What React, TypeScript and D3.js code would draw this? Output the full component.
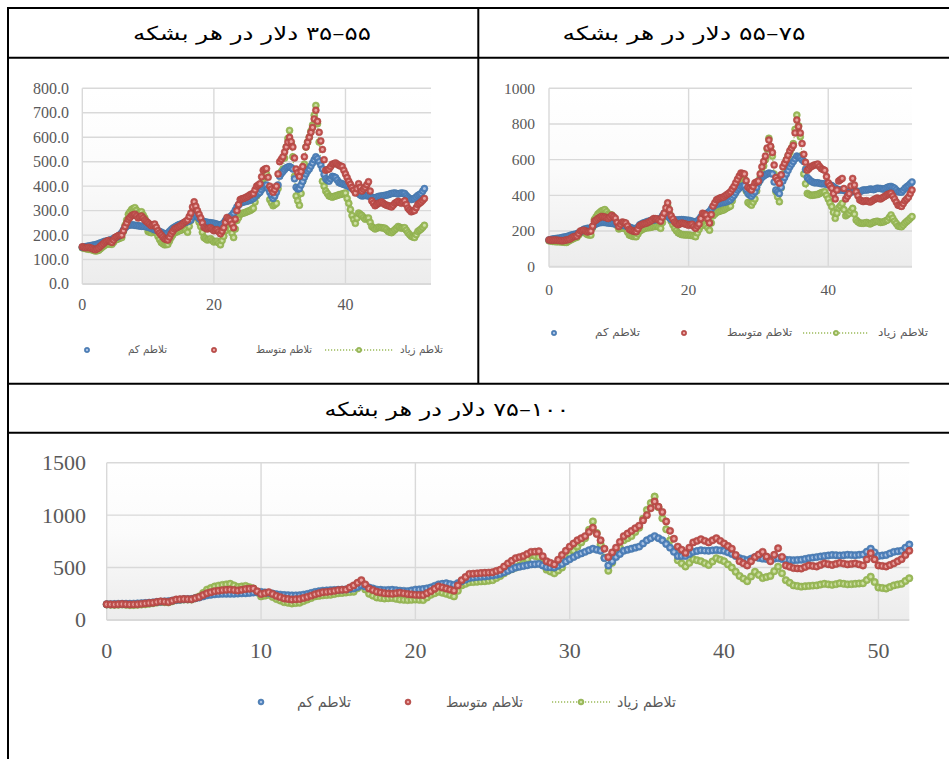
import React from "react";
import * as d3 from "d3";

// Sampling interval along the horizontal axis (four values per unit)
const STEP = 0.25;

const LEGEND_LABELS = ["تلاطم کم", "تلاطم متوسط", "تلاطم زیاد"];
const PANEL_TITLES = [
  "\u202A۳۵–۵۵\u202C دلار در هر بشکه",
  "\u202A۵۵–۷۵\u202C دلار در هر بشکه",
  "\u202A۷۵–۱۰۰\u202C دلار در هر بشکه",
];

// ---- Panel 1: 35–55 $/bbl ----
const TL_LOW = [
  150, 151, 152, 154, 155, 156, 158, 159, 160, 163, 165, 168, 170, 173, 175, 176, 178, 180, 182, 186,
  190, 192, 195, 202, 210, 221, 230, 236, 240, 241, 242, 241, 240, 239, 238, 237, 236, 236, 235, 234,
  232, 230, 228, 225, 222, 220, 218, 215, 212, 208, 205, 204, 208, 215, 222, 228, 232, 236, 240, 243,
  245, 248, 250, 252, 255, 258, 262, 275, 290, 283, 275, 268, 262, 258, 255, 253, 252, 251, 250, 249,
  248, 246, 244, 242, 240, 244, 250, 260, 268, 272, 275, 282, 290, 302, 315, 323, 330, 333, 335, 337,
  338, 340, 342, 346, 350, 357, 365, 370, 375, 386, 395, 402, 405, 390, 375, 362, 350, 360, 375, 405,
  440, 452, 460, 468, 475, 478, 480, 476, 470, 430, 395, 388, 390, 405, 420, 436, 450, 462, 470, 482,
  495, 508, 520, 512, 500, 486, 470, 448, 430, 424, 420, 430, 440, 438, 435, 425, 415, 412, 410, 407,
  405, 402, 400, 395, 390, 388, 385, 378, 370, 364, 360, 361, 362, 361, 360, 358, 355, 353, 352, 355,
  358, 359, 360, 361, 362, 364, 365, 368, 370, 371, 372, 370, 368, 370, 372, 371, 370, 362, 355, 350,
  345, 347, 350, 356, 362, 366, 370, 380, 390,
];
const TL_MID = [
  152, 150, 148, 149, 150, 147, 145, 142, 140, 144, 148, 154, 160, 166, 172, 175, 178, 174, 170, 180,
  190, 194, 198, 199, 200, 218, 235, 250, 265, 272, 280, 283, 285, 278, 270, 274, 278, 270, 262, 256,
  250, 244, 238, 242, 245, 232, 218, 208, 200, 192, 185, 182, 180, 192, 205, 215, 225, 229, 232, 236,
  240, 246, 252, 257, 262, 276, 290, 315, 336, 318, 300, 285, 270, 250, 232, 228, 225, 228, 230, 224,
  218, 220, 222, 214, 205, 216, 230, 252, 272, 266, 260, 245, 230, 265, 300, 325, 345, 348, 350, 353,
  356, 360, 365, 368, 370, 385, 400, 405, 410, 438, 465, 470, 472, 436, 400, 388, 375, 386, 400, 450,
  500, 510, 520, 540, 560, 580, 600, 582, 560, 515, 470, 455, 440, 460, 480, 520, 560, 580, 600, 620,
  640, 675, 710, 665, 620, 585, 550, 508, 465, 468, 470, 480, 490, 492, 495, 490, 485, 482, 480, 465,
  450, 435, 420, 408, 395, 384, 372, 390, 410, 395, 380, 388, 395, 406, 418, 380, 340, 330, 320, 325,
  330, 332, 335, 330, 325, 322, 320, 318, 315, 322, 330, 334, 338, 334, 330, 335, 340, 325, 310, 302,
  295, 298, 300, 312, 325, 330, 335, 342, 350,
];
const TL_HIGH = [
  148, 146, 145, 143, 142, 141, 140, 137, 135, 136, 138, 144, 150, 155, 160, 163, 165, 163, 162, 171,
  180, 182, 185, 188, 190, 215, 240, 262, 285, 295, 305, 309, 312, 301, 290, 292, 295, 282, 270, 242,
  215, 212, 210, 218, 225, 210, 195, 182, 170, 165, 160, 161, 162, 176, 190, 200, 210, 212, 215, 218,
  220, 225, 230, 221, 212, 236, 260, 285, 310, 290, 270, 252, 235, 212, 190, 185, 180, 182, 185, 178,
  172, 174, 175, 168, 160, 178, 195, 218, 240, 232, 225, 208, 190, 225, 260, 272, 285, 288, 290, 292,
  295, 298, 300, 305, 310, 335, 360, 370, 380, 405, 430, 440, 450, 398, 345, 332, 320, 325, 330, 390,
  450, 460, 470, 515, 560, 595, 628, 575, 520, 440, 360, 340, 322, 370, 420, 490, 560, 580, 600, 625,
  650, 690, 730, 655, 580, 500, 420, 400, 380, 370, 360, 358, 355, 358, 360, 362, 365, 366, 368, 370,
  372, 350, 330, 305, 280, 264, 248, 270, 290, 285, 280, 272, 265, 268, 270, 252, 235, 230, 225, 228,
  232, 231, 230, 229, 228, 222, 215, 212, 210, 216, 222, 228, 235, 232, 228, 229, 230, 220, 210, 202,
  195, 192, 190, 202, 215, 220, 225, 232, 240,
];

// ---- Panel 2: 55–75 $/bbl ----
const TR_LOW = [
  150, 152, 155, 156, 158, 159, 160, 162, 165, 166, 168, 171, 175, 178, 180, 182, 185, 190, 195, 202,
  210, 212, 215, 215, 215, 225, 235, 240, 245, 246, 248, 248, 248, 246, 245, 244, 243, 241, 240, 239,
  238, 236, 234, 231, 228, 225, 222, 218, 215, 213, 212, 222, 235, 240, 245, 248, 252, 255, 258, 260,
  262, 263, 265, 267, 270, 285, 300, 292, 285, 275, 265, 263, 262, 262, 262, 263, 264, 263, 262, 261,
  260, 258, 255, 252, 250, 256, 265, 278, 290, 292, 295, 302, 310, 324, 337, 344, 350, 352, 355, 358,
  360, 362, 365, 370, 375, 388, 400, 415, 430, 440, 450, 452, 455, 432, 410, 402, 395, 408, 420, 445,
  470, 485, 500, 508, 515, 520, 525, 522, 520, 475, 430, 420, 410, 445, 480, 500, 520, 540, 560, 575,
  590, 605, 620, 615, 610, 600, 590, 545, 500, 490, 480, 475, 470, 470, 470, 468, 465, 465, 465, 462,
  460, 458, 455, 448, 440, 435, 430, 430, 430, 428, 425, 422, 420, 420, 420, 422, 425, 422, 420, 425,
  430, 430, 430, 432, 435, 434, 432, 436, 440, 439, 438, 436, 435, 440, 445, 448, 450, 445, 440, 430,
  420, 419, 418, 428, 440, 448, 455, 465, 475,
];
const TR_MID = [
  150, 149, 148, 149, 150, 148, 147, 146, 145, 148, 150, 152, 155, 162, 168, 170, 172, 186, 200, 202,
  205, 200, 195, 198, 200, 228, 255, 262, 270, 276, 282, 280, 278, 274, 270, 279, 288, 280, 272, 248,
  225, 238, 250, 248, 245, 228, 210, 205, 200, 198, 196, 212, 230, 235, 240, 242, 245, 250, 255, 262,
  270, 269, 268, 262, 255, 278, 300, 330, 358, 320, 285, 268, 250, 242, 235, 240, 245, 242, 240, 236,
  232, 235, 238, 226, 215, 228, 240, 270, 300, 295, 290, 268, 245, 292, 340, 358, 375, 380, 385, 388,
  390, 398, 405, 412, 420, 435, 450, 470, 490, 508, 525, 522, 520, 482, 445, 438, 430, 450, 470, 475,
  480, 520, 560, 590, 620, 665, 710, 675, 640, 570, 500, 484, 468, 515, 560, 580, 600, 625, 650, 665,
  680, 750, 822, 785, 750, 690, 630, 585, 540, 550, 560, 565, 570, 572, 575, 562, 550, 545, 540, 505,
  470, 455, 440, 410, 380, 430, 480, 488, 495, 438, 380, 395, 410, 452, 495, 458, 420, 398, 375, 370,
  365, 368, 370, 366, 362, 368, 375, 380, 385, 382, 380, 386, 392, 398, 405, 408, 412, 396, 380, 362,
  345, 342, 338, 354, 370, 380, 390, 410, 430,
];
const TR_HIGH = [
  145, 144, 142, 141, 140, 140, 140, 139, 138, 137, 136, 142, 148, 153, 158, 162, 165, 178, 190, 192,
  195, 188, 180, 178, 177, 220, 265, 280, 295, 304, 312, 316, 320, 308, 295, 292, 290, 270, 250, 231,
  212, 215, 218, 215, 212, 195, 178, 174, 170, 169, 168, 184, 200, 206, 212, 215, 218, 219, 220, 222,
  225, 226, 228, 222, 215, 248, 280, 310, 340, 298, 255, 235, 215, 202, 190, 185, 180, 179, 178, 178,
  178, 176, 175, 172, 168, 190, 210, 228, 245, 238, 230, 218, 205, 245, 285, 295, 305, 308, 312, 315,
  318, 324, 330, 335, 340, 370, 400, 420, 440, 460, 480, 485, 490, 425, 360, 352, 345, 362, 380, 425,
  470, 500, 530, 565, 600, 660, 720, 670, 620, 520, 420, 392, 364, 442, 520, 560, 598, 620, 640, 665,
  690, 770, 850, 790, 728, 625, 520, 465, 411, 405, 400, 401, 402, 404, 405, 410, 415, 418, 420, 400,
  380, 358, 337, 305, 271, 300, 330, 342, 355, 320, 285, 292, 300, 314, 327, 295, 262, 252, 245, 244,
  243, 245, 248, 244, 240, 245, 250, 252, 255, 252, 248, 250, 252, 258, 262, 276, 290, 272, 255, 242,
  228, 226, 224, 234, 245, 254, 262, 272, 281,
];

// ---- Panel 3: 75–100 $/bbl ----
const B_LOW = [
  150, 151, 152, 154, 155, 155, 155, 156, 158, 160, 162, 165, 168, 172, 175, 178, 180, 185, 190, 194,
  198, 199, 200, 208, 215, 225, 235, 240, 245, 248, 250, 250, 250, 251, 252, 254, 255, 258, 262, 265,
  268, 263, 258, 252, 245, 242, 238, 236, 235, 235, 236, 242, 248, 258, 268, 274, 280, 282, 285, 286,
  288, 290, 292, 296, 300, 315, 330, 320, 310, 300, 290, 288, 285, 286, 288, 284, 280, 278, 275, 282,
  290, 292, 295, 302, 310, 325, 340, 345, 350, 342, 335, 352, 370, 385, 400, 405, 410, 412, 415, 420,
  425, 432, 440, 455, 470, 485, 500, 508, 515, 522, 530, 532, 535, 520, 505, 502, 500, 518, 535, 558,
  580, 600, 620, 635, 650, 665, 680, 670, 660, 590, 520, 560, 600, 630, 660, 670, 680, 690, 700, 730,
  760, 780, 800, 780, 760, 725, 690, 650, 610, 610, 610, 630, 650, 658, 665, 662, 660, 664, 668, 664,
  660, 645, 630, 610, 590, 580, 570, 585, 600, 592, 585, 582, 580, 585, 590, 582, 575, 572, 570, 572,
  575, 582, 590, 595, 600, 605, 610, 615, 620, 618, 615, 618, 622, 620, 618, 622, 625, 652, 680, 645,
  610, 615, 620, 635, 650, 655, 660, 690, 720,
];
const B_MID = [
  150, 149, 148, 150, 152, 150, 148, 149, 150, 154, 158, 162, 165, 172, 178, 175, 172, 184, 195, 198,
  200, 199, 198, 209, 220, 238, 255, 265, 275, 280, 285, 288, 290, 286, 282, 288, 295, 298, 300, 274,
  248, 256, 265, 248, 230, 218, 205, 200, 195, 198, 200, 210, 220, 232, 245, 255, 265, 268, 272, 278,
  285, 288, 290, 310, 330, 355, 380, 340, 300, 285, 270, 262, 255, 252, 250, 255, 260, 254, 248, 244,
  240, 239, 238, 256, 275, 298, 320, 310, 300, 290, 280, 330, 380, 410, 440, 442, 445, 448, 450, 452,
  455, 468, 480, 510, 540, 565, 590, 600, 610, 630, 650, 652, 655, 608, 560, 545, 530, 575, 620, 660,
  700, 730, 760, 780, 800, 840, 880, 820, 760, 680, 600, 645, 690, 745, 800, 825, 850, 875, 900, 950,
  1000, 1065, 1130, 1080, 1030, 940, 850, 775, 700, 670, 640, 690, 740, 755, 770, 755, 740, 760, 780, 755,
  730, 705, 680, 620, 560, 540, 520, 560, 600, 625, 650, 605, 560, 622, 684, 602, 520, 508, 495, 492,
  490, 505, 520, 515, 510, 525, 540, 532, 525, 535, 545, 538, 530, 535, 540, 530, 520, 578, 636, 578,
  520, 515, 510, 525, 540, 560, 580, 620, 660,
];
const B_HIGH = [
  148, 146, 145, 146, 148, 145, 142, 143, 145, 148, 150, 155, 160, 166, 172, 170, 168, 179, 190, 192,
  195, 195, 195, 210, 225, 258, 290, 305, 320, 328, 335, 340, 345, 330, 315, 320, 325, 312, 300, 262,
  225, 232, 240, 220, 200, 185, 170, 164, 158, 162, 165, 180, 195, 210, 225, 230, 235, 238, 240, 248,
  255, 258, 262, 266, 270, 302, 335, 292, 250, 232, 215, 210, 205, 208, 210, 202, 195, 192, 190, 192,
  195, 192, 190, 215, 240, 255, 270, 260, 250, 238, 225, 278, 330, 345, 360, 362, 365, 368, 370, 375,
  380, 400, 420, 445, 470, 485, 500, 520, 540, 580, 620, 610, 600, 540, 480, 462, 445, 472, 500, 560,
  620, 660, 700, 740, 780, 860, 940, 830, 720, 595, 470, 545, 620, 690, 760, 780, 800, 840, 880, 965,
  1050, 1115, 1177, 1075, 970, 865, 760, 665, 570, 540, 510, 545, 580, 570, 560, 542, 525, 558, 590, 575,
  560, 530, 500, 460, 420, 395, 370, 415, 460, 430, 400, 410, 420, 465, 509, 445, 380, 355, 330, 324,
  318, 322, 325, 328, 330, 338, 345, 340, 335, 342, 350, 345, 340, 342, 345, 348, 350, 382, 413, 362,
  310, 305, 300, 315, 330, 338, 345, 372, 398,
];

const COLORS = {
  low: { base: "#4f81bd", light: "#a9c2e2", edge: "#40709f" },
  mid: { base: "#c0504d", light: "#e8a4a2", edge: "#a6403d" },
  high: { base: "#9bbb59", light: "#cfe0a8", edge: "#87a648" },
};

const TICK_COLOR = "#595959";
const GRID_COLOR = "#d9d9d9";
const SERIF = "'Liberation Serif', 'Times New Roman', serif";
const PERSIAN = "'DejaVu Sans', sans-serif";

type Kind = "low" | "mid" | "high";

type Legend = {
  y: number;
  markerX: number[];
  textCenter: number[];
  textWidth: number[];
  lineFrom: number;
  lineTo: number;
  font: number;
  r: number;
};

type PanelCfg = {
  low: number[];
  mid: number[];
  high: number[];
  left: number;
  right: number;
  top: number;
  bottom: number;
  xMax: number;
  xStep: number;
  yMax: number;
  yStep: number;
  yDecimals: number;
  tickFont: number;
  yLabelRight: number;
  xLabelY: number;
  r: number;
  legend: Legend;
};

const PANELS: PanelCfg[] = [
  {
    low: TL_LOW, mid: TL_MID, high: TL_HIGH,
    left: 82.3, right: 431, top: 88.3, bottom: 284,
    xMax: 53, xStep: 20, yMax: 800, yStep: 100, yDecimals: 1,
    tickFont: 16, yLabelRight: 69, xLabelY: 310, r: 3.5,
    legend: {
      y: 350, markerX: [87, 214, 359], textCenter: [147.5, 284, 421.5],
      textWidth: [39, 56, 43], lineFrom: 325, lineTo: 393, font: 10.5, r: 2.7,
    },
  },
  {
    low: TR_LOW, mid: TR_MID, high: TR_HIGH,
    left: 549, right: 912, top: 88.3, bottom: 266.7,
    xMax: 52, xStep: 20, yMax: 1000, yStep: 200, yDecimals: 0,
    tickFont: 15.5, yLabelRight: 535, xLabelY: 294.5, r: 3.5,
    legend: {
      y: 333, markerX: [554, 684, 836], textCenter: [617.5, 759.5, 903],
      textWidth: [45, 65, 50], lineFrom: 803, lineTo: 868, font: 11, r: 2.7,
    },
  },
  {
    low: B_LOW, mid: B_MID, high: B_HIGH,
    left: 106.7, right: 909.3, top: 462.7, bottom: 620,
    xMax: 52, xStep: 10, yMax: 1500, yStep: 500, yDecimals: 0,
    tickFont: 22, yLabelRight: 86, xLabelY: 657.5, r: 3.7,
    legend: {
      y: 702, markerX: [261, 408, 581], textCenter: [324, 484.5, 646.5],
      textWidth: [54, 77, 59], lineFrom: 552, lineTo: 610, font: 15, r: 3,
    },
  },
];

function Markers({ values, xs, ys, r, kind }: {
  values: number[];
  xs: d3.ScaleLinear<number, number>;
  ys: d3.ScaleLinear<number, number>;
  r: number;
  kind: Kind;
}) {
  return (
    <g>
      {values.map((v, i) => (
        <circle
          key={i}
          cx={xs(i * STEP)}
          cy={ys(v)}
          r={r}
          fill={`url(#mk-${kind})`}
          stroke={COLORS[kind].edge}
          strokeWidth={0.5}
        />
      ))}
    </g>
  );
}

function Panel({ c }: { c: PanelCfg }) {
  const xs = d3.scaleLinear().domain([0, c.xMax]).range([c.left, c.right]);
  const ys = d3.scaleLinear().domain([0, c.yMax]).range([c.bottom, c.top]);
  const yTicks = d3.range(0, c.yMax + 1e-6, c.yStep);
  const xTicks = d3.range(0, c.xMax + 1e-6, c.xStep);
  const fmt = d3.format(`.${c.yDecimals}f`);
  const highLine = d3
    .line<number>()
    .x((_, i) => xs(i * STEP))
    .y((v) => ys(v));
  const L = c.legend;
  const kinds: Kind[] = ["low", "mid", "high"];

  return (
    <g>
      <rect
        x={c.left}
        y={c.top}
        width={c.right - c.left}
        height={c.bottom - c.top}
        fill="url(#plot-bg)"
      />
      {yTicks.map((t) => (
        <line
          key={`gy${t}`}
          x1={c.left}
          x2={c.right}
          y1={ys(t)}
          y2={ys(t)}
          stroke={GRID_COLOR}
          strokeWidth={t === 0 ? 2 : 1.4}
        />
      ))}
      {xTicks.map((t) => (
        <line
          key={`gx${t}`}
          x1={xs(t)}
          x2={xs(t)}
          y1={c.top}
          y2={c.bottom}
          stroke={GRID_COLOR}
          strokeWidth={1.4}
        />
      ))}
      {yTicks.map((t) => (
        <text
          key={`ly${t}`}
          x={c.yLabelRight}
          y={ys(t)}
          dy="0.34em"
          textAnchor="end"
          fontFamily={SERIF}
          fontSize={c.tickFont}
          fill={TICK_COLOR}
        >
          {fmt(t)}
        </text>
      ))}
      {xTicks.map((t) => (
        <text
          key={`lx${t}`}
          x={xs(t)}
          y={c.xLabelY}
          textAnchor="middle"
          fontFamily={SERIF}
          fontSize={c.tickFont}
          fill={TICK_COLOR}
        >
          {t}
        </text>
      ))}

      <path
        d={highLine(c.high) ?? ""}
        fill="none"
        stroke={COLORS.high.base}
        strokeWidth={1.2}
        strokeDasharray="1.2 1.8"
      />
      <Markers values={c.high} xs={xs} ys={ys} r={c.r} kind="high" />
      <Markers values={c.low} xs={xs} ys={ys} r={c.r} kind="low" />
      <Markers values={c.mid} xs={xs} ys={ys} r={c.r} kind="mid" />

      {/* legend */}
      <line
        x1={L.lineFrom}
        x2={L.lineTo}
        y1={L.y}
        y2={L.y}
        stroke={COLORS.high.base}
        strokeWidth={1.4}
        strokeDasharray="1.2 1.8"
      />
      {kinds.map((k, i) => (
        <g key={k}>
          <circle
            cx={L.markerX[i]}
            cy={L.y}
            r={L.r}
            fill={`url(#mk-${k})`}
            stroke={COLORS[k].edge}
            strokeWidth={0.5}
          />
          <text
            x={L.textCenter[i]}
            y={L.y}
            dy="0.3em"
            textAnchor="middle"
            direction="rtl"
            fontFamily={PERSIAN}
            fontSize={L.font}
            fill={TICK_COLOR}
            textLength={L.textWidth[i]}
            lengthAdjust="spacingAndGlyphs"
          >
            {LEGEND_LABELS[i]}
          </text>
        </g>
      ))}
    </g>
  );
}

export default function App() {
  const kinds: Kind[] = ["low", "mid", "high"];
  return (
    <svg
      width={949}
      height={759}
      style={{ position: "absolute", left: 0, top: 0, background: "#fff" }}
    >
      <defs>
        <linearGradient id="plot-bg" x1="0" y1="0" x2="0" y2="1">
          <stop offset="0%" stopColor="#ffffff" />
          <stop offset="45%" stopColor="#fbfbfb" />
          <stop offset="100%" stopColor="#ececec" />
        </linearGradient>
        {kinds.map((k) => (
          <radialGradient key={k} id={`mk-${k}`} cx="50%" cy="50%" r="50%">
            <stop offset="0%" stopColor={COLORS[k].light} />
            <stop offset="28%" stopColor={COLORS[k].light} />
            <stop offset="55%" stopColor={COLORS[k].base} />
            <stop offset="100%" stopColor={COLORS[k].base} />
          </radialGradient>
        ))}
      </defs>
      <rect width={949} height={759} fill="#ffffff" />

      {PANELS.map((p, i) => (
        <Panel key={i} c={p} />
      ))}

      {/* table rules */}
      <g stroke="#000" strokeWidth={2} fill="none">
        <line x1={7} x2={949} y1={8} y2={8} />
        <line x1={8} x2={8} y1={7} y2={759} />
        <line x1={478.3} x2={478.3} y1={7} y2={384} />
        <line x1={8} x2={949} y1={57.7} y2={57.7} />
        <line x1={8} x2={949} y1={383.7} y2={383.7} />
        <line x1={8} x2={949} y1={432.7} y2={432.7} />
      </g>

      {/* cell headings */}
      {[
        { x: 252, y: 40, w: 238 },
        { x: 684, y: 40, w: 243 },
        { x: 447, y: 416, w: 245 },
      ].map((h, i) => (
        <text
          key={i}
          x={h.x}
          y={h.y}
          textAnchor="middle"
          direction="rtl"
          fontFamily={PERSIAN}
          fontSize={19}
          fill="#000"
          textLength={h.w}
          lengthAdjust="spacingAndGlyphs"
        >
          {PANEL_TITLES[i]}
        </text>
      ))}
    </svg>
  );
}
